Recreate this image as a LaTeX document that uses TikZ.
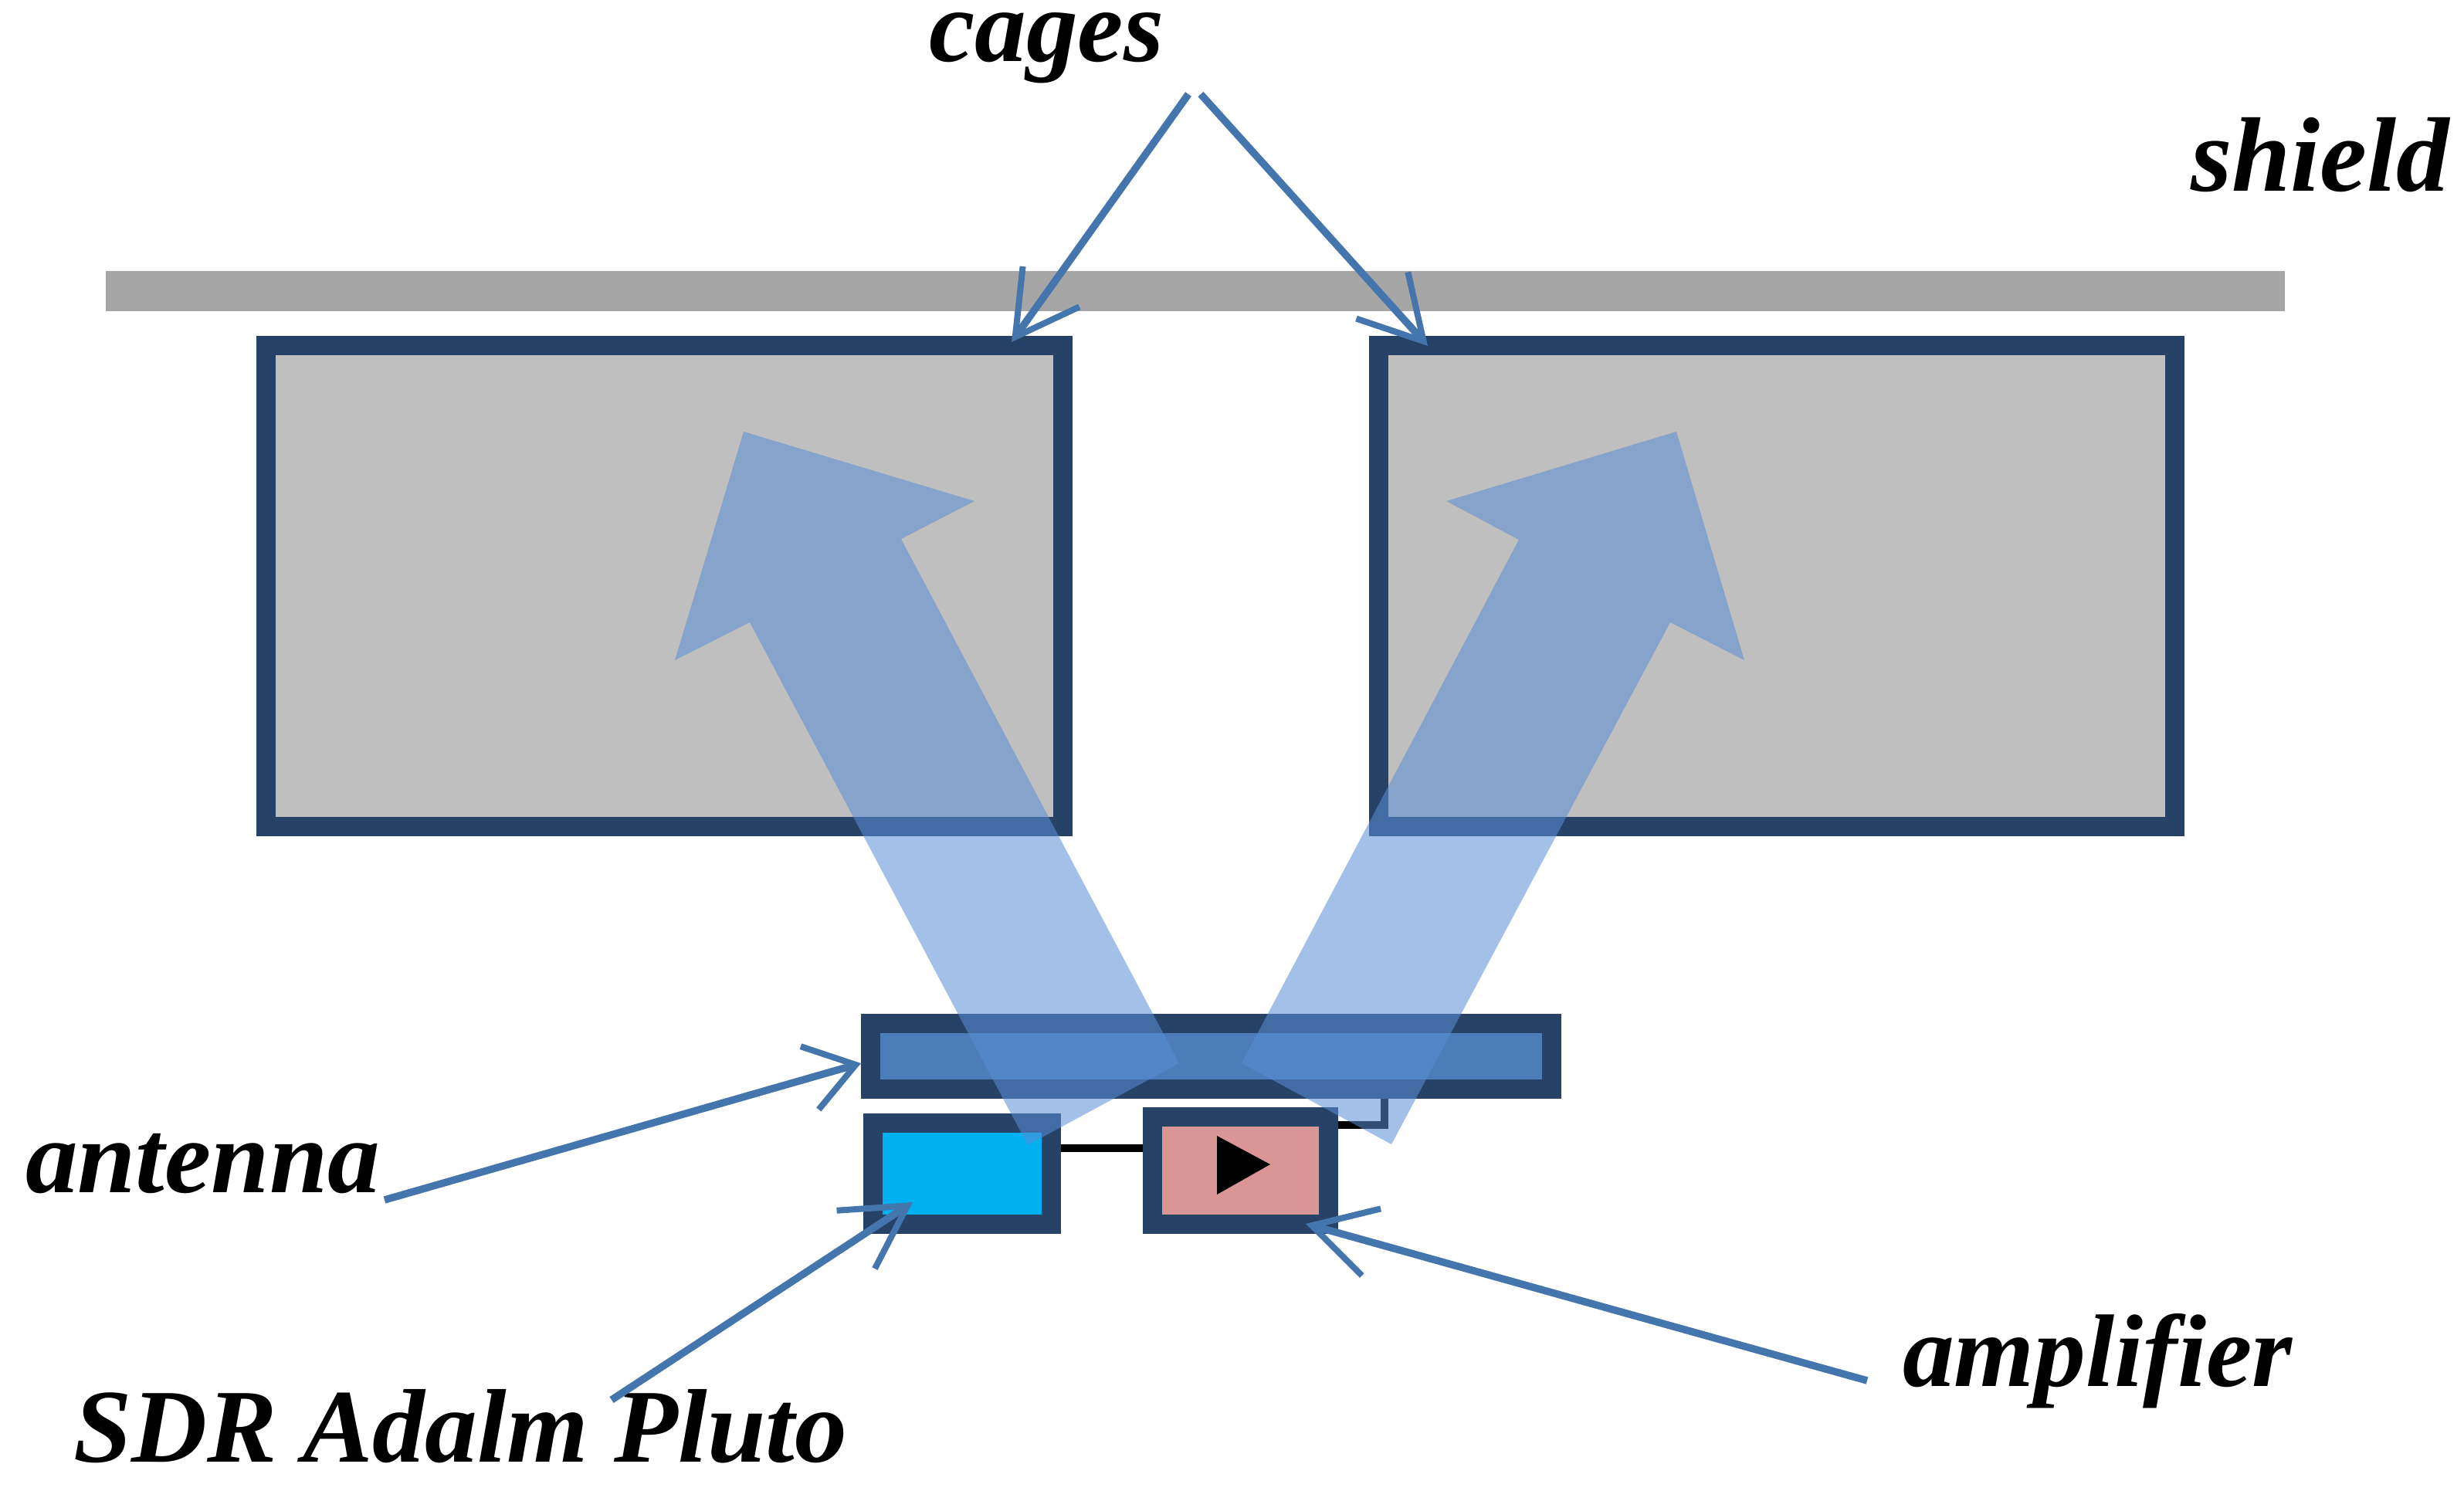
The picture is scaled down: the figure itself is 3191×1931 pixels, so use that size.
\documentclass[tikz,border=0pt]{standalone}
\usepackage{fontspec}
\setmainfont{Liberation Serif}
\usetikzlibrary{arrows.meta}
\definecolor{navybox}{HTML}{264266}
\definecolor{cagegrey}{HTML}{BFBFBF}
\definecolor{shieldgrey}{HTML}{A6A6A6}
\definecolor{antfill}{HTML}{4D7DB9}
\definecolor{sdrfill}{HTML}{00B0F0}
\definecolor{ampfill}{HTML}{D99694}
\definecolor{beamblue}{RGB}{89,143,213}
\definecolor{calloutblue}{HTML}{4575AD}
\tikzset{
  box/.style={draw=navybox,line width=0.25cm,inner sep=0pt,outer sep=0.125cm},
  beam/.style={fill=beamblue,fill opacity=0.553,draw=none},
  wire/.style={draw=black,line width=0.105cm},
  callout/.style={draw=calloutblue,line width=0.095cm,
    -{Straight Barb[length=0.8cm,width=0.9cm,line width=0.08cm]}},
  shortcallout/.style={draw=calloutblue,line width=0.095cm,
    -{Straight Barb[length=0.62cm,width=0.85cm,line width=0.08cm]}},
  lab/.style={anchor=base west,inner sep=0pt,outer sep=0pt,
    font=\fontsize{38}{38}\selectfont\bfseries\itshape},
}
\begin{document}
\begin{tikzpicture}[x=0.01cm,y=-0.01cm]
\useasboundingbox (0,0) rectangle (3191,1931);
% shield and cages
\node[fill=shieldgrey,inner sep=0pt,outer sep=0pt,minimum width=28.20cm,minimum height=0.52cm] (shield) at (1548,377) {};
\node[box,fill=cagegrey,minimum width=10.32cm,minimum height=6.23cm] (cageL) at (860.5,759) {};
\node[box,fill=cagegrey,minimum width=10.31cm,minimum height=6.23cm] (cageR) at (2301,759) {};
% devices
\node[box,fill=antfill,minimum width=8.82cm,minimum height=0.85cm] (antenna) at (1568.5,1368) {};
\node[box,fill=sdrfill,minimum width=2.31cm,minimum height=1.31cm] (sdr) at (1246,1520) {};
\node[box,fill=ampfill,minimum width=2.28cm,minimum height=1.39cm] (amp) at (1606.5,1516) {};
% wires
\coordinate (wa) at (0,1487);
\coordinate (wb) at (1793,1457);
\draw[wire] (sdr.east |- wa) -- (amp.west |- wa);
\draw[wire] (wb |- antenna.south) -- (wb) -- (amp.east |- wb);
\fill[black] (1576,1471) -- (1645,1508) -- (1576,1547) -- cycle;
% beams
\path[beam] (963,559) -- (1262,649) -- (1167,698) -- (1527,1377) -- (1331,1483) -- (971,806) -- (874,855) -- cycle;
\path[beam] (2171,559) -- (1873,649) -- (1967,699) -- (1608,1377) -- (1802,1482) -- (2163,806) -- (2259,855) -- cycle;
% labels
\node[lab] (tcages) at (1203,80) {cages};
\node[lab,font=\fontsize{39}{39}\selectfont\bfseries\itshape] (tshield) at (2837,248) {shield};
\node[lab,font=\fontsize{38.5}{38.5}\selectfont\bfseries\itshape] (tantenna) at (33,1544) {antenna};
\node[lab,font=\fontsize{38.55}{38.55}\selectfont\bfseries\itshape] (tsdr) at (95,1893) {SDR Adalm Pluto};
\node[lab] (tamp) at (2464,1795) {amplifier};
% callout ends
\coordinate (cs1) at (1539,122);
\coordinate (ct1) at (1310,443);
\coordinate (cs2) at (1555,122);
\coordinate (ct2) at (1849,448);
\coordinate (as) at (498,1554);
\coordinate (at) at (1115,1377);
\coordinate (ss) at (792,1813);
\coordinate (st) at (1182,1557);
\coordinate (ps) at (2418,1788);
\coordinate (pt) at (1691,1585);
\draw[callout] (cs1) -- (ct1);
\draw[callout] (cs2) -- (ct2);
\draw[shortcallout] (as) -- (at);
\draw[callout] (ss) -- (st);
\draw[callout] (ps) -- (pt);
\end{tikzpicture}
\end{document}
